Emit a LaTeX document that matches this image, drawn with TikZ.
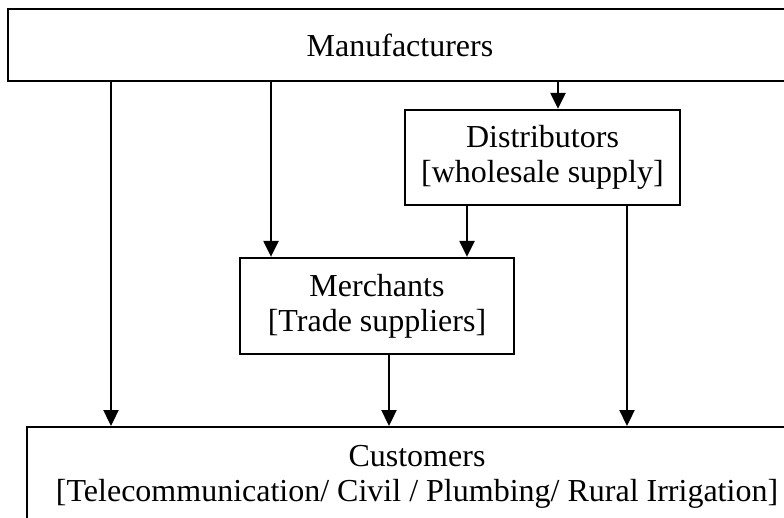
\documentclass[tikz,border=0pt]{standalone}
\usepackage{fontspec}
\setmainfont{Liberation Serif}
\usetikzlibrary{arrows.meta}
\tikzset{
	box/.style={draw, line width=2.3pt, align=center, inner sep=0pt, font=\fontsize{32}{35}\selectfont},
	flow/.style={line width=2.3pt, -{Triangle[length=16pt,width=15pt]}}
}
\begin{document}
\begin{tikzpicture}[x=1pt,y=-1pt]
	\fill[white] (0,0) rectangle (784,517);
	\useasboundingbox (0,0) rectangle (784,517);
	\clip (0,0) rectangle (784,517);
	%boxes
	\node[box, minimum width=784pt, minimum height=72pt] (manu) at (400,45) {Manufacturers};
	\node[box, minimum width=275pt, minimum height=95pt] (dist) at (542.5,157.5) {Distributors\\{[}wholesale supply{]}};
	\node[box, minimum width=274pt, minimum height=96pt] (merch) at (377,306) {Merchants\\{[}Trade suppliers{]}};
	\node[box, minimum width=780pt, inner ysep=18pt, anchor=north] (cust) at (417,426) {Customers\\{[}Telecommunication/ Civil / Plumbing/ Rural Irrigation{]}};
	%columns
	\coordinate (c1) at (111,0);
	\coordinate (c2) at (271,0);
	\coordinate (c3) at (389,0);
	\coordinate (c4) at (467,0);
	\coordinate (c5) at (558,0);
	\coordinate (c6) at (627,0);
	%arrows
	\draw[flow] (manu.south -| c1) -- (cust.north -| c1);
	\draw[flow] (manu.south -| c2) -- (merch.north -| c2);
	\draw[flow] (manu.south -| c5) -- (dist.north -| c5);
	\draw[flow] (dist.south -| c4) -- (merch.north -| c4);
	\draw[flow] (dist.south -| c6) -- (cust.north -| c6);
	\draw[flow] (merch.south -| c3) -- (cust.north -| c3);
\end{tikzpicture}
\end{document}
